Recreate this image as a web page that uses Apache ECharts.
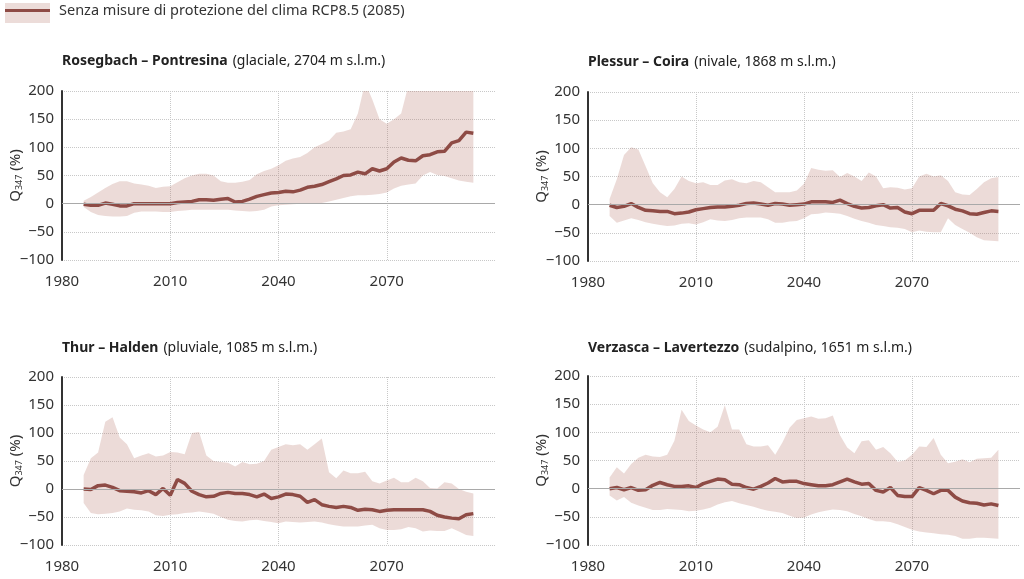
<!DOCTYPE html>
<html>
<head>
<meta charset="utf-8">
<script src="https://cdn.jsdelivr.net/npm/echarts@6/dist/echarts.min.js"></script>
<style>
  html, body { margin: 0; padding: 0; background: #fff; }
  #chart { width: 1024px; height: 579px; }
</style>
</head>
<body>
<div id="chart"></div>
<script>
// anni (griglia di 2 anni)
var years = [1986, 1988,
  1990, 1992, 1994, 1996, 1998, 2000, 2002, 2004, 2006, 2008,
  2010, 2012, 2014, 2016, 2018, 2020, 2022, 2024, 2026, 2028,
  2030, 2032, 2034, 2036, 2038, 2040, 2042, 2044, 2046, 2048,
  2050, 2052, 2054, 2056, 2058, 2060, 2062, 2064, 2066, 2068,
  2070, 2072, 2074, 2076, 2078, 2080, 2082, 2084, 2086, 2088,
  2090, 2092, 2094];

// Rosegbach – Pontresina
var rosegMid = [-1, -3,
  -3, 1, -1, -4, -4,   0, 0, 0, 0, 0,
  0, 2, 3, 4, 7,       7, 6, 8, 9, 3,
  4, 8, 13, 16, 19,    20, 22, 21, 24, 29,
  31, 34, 39, 44, 50,  51, 56, 53, 62, 58,
  62, 74, 81, 77, 76,  85, 87, 92, 93, 108,
  112, 127, 125];
var rosegHi = [5, 12,
  20, 28, 35, 40, 40,  36, 34, 32, 28, 30,
  31, 38, 45, 50, 53,  53, 50, 40, 37, 37,
  39, 42, 52, 58, 62,  68, 76, 80, 83, 90,
  100, 106, 112, 126, 128,  132, 160, 215, 185, 150,
  142, 150, 160, 210, 240,  250, 250, 250, 250, 250,
  250, 250, 250];
var rosegLo = [-6, -15,
  -20, -22, -23, -23, -22,  -16, -14, -14, -14, -15,
  -15, -13, -12, -11, -11,  -11, -11, -11, -11, -12,
  -13, -14, -13, -11, -5,   -3, -2, -1, 0, 0,
  0, 1, 4, 7, 10,           13, 15, 15, 16, 17,
  20, 27, 32, 34, 36,       50, 56, 51, 49, 45,
  41, 39, 37];

// Plessur – Coira
var plessMid = [-1, -5,
  -3, 2, -5, -10, -11,   -12, -12, -16, -15, -13,
  -9, -7, -5, -4, -4,    -3, -1, 2, 3, 1,
  -1, 2, 1, -1, 0,       1, 5, 5, 5, 4,
  8, 2, -3, -6, -5,      -2, 0, -6, -5, -13,
  -16, -10, -10, -10, 2, -2, -8, -11, -16, -17,
  -14, -11, -12];
var plessHi = [10, 45,
  88, 102, 98, 68, 38,   22, 13, 28, 50, 42,
  38, 40, 35, 35, 43,    45, 40, 38, 42, 40,
  31, 22, 22, 22, 25,    37, 65, 62, 60, 61,
  49, 56, 50, 42, 57,    50, 29, 31, 30, 27,
  29, 50, 55, 50, 52,    42, 22, 18, 17, 28,
  40, 47, 49];
var plessLo = [-20, -32,
  -28, -24, -27, -31, -34,  -36, -38, -37, -34, -33,
  -35, -31, -26, -28, -29,  -27, -24, -23, -23, -23,
  -26, -32, -32, -30, -29,  -24, -17, -16, -14, -15,
  -16, -20, -25, -29, -32,  -36, -38, -40, -41, -43,
  -49, -46, -48, -49, -49,  -24, -36, -43, -50, -58,
  -63, -64, -65];

// Thur – Halden
var thurMid = [0, -1,
  6, 7, 3, -3, -4,        -5, -7, -3, -10, 1,
  -11, 17, 10, -4, -10,   -14, -13, -8, -6, -8,
  -8, -10, -14, -9, -17,  -14, -9, -10, -13, -24,
  -19, -28, -31, -33, -31, -33, -38, -36, -37, -40,
  -38, -37, -37, -37, -37, -37, -40, -47, -50, -52,
  -53, -46, -44];
var thurHi = [25, 55,
  65, 120, 128, 92, 80,   55, 60, 64, 58, 60,
  66, 65, 62, 100, 102,   60, 50, 48, 47, 40,
  48, 44, 45, 50, 70,     75, 80, 78, 80, 70,
  80, 90, 30, 19, 33,     28, 28, 31, 14, 10,
  15, 20, 12, 12, 20,     14, 2, 1, 12, 10,
  0, -5, -8];
var thurLo = [-25, -43,
  -45, -44, -43, -40, -35,  -37, -38, -40, -47, -48,
  -46, -45, -43, -42, -40,  -42, -44, -50, -55, -57,
  -58, -56, -55, -57, -59,  -61, -58, -59, -60, -59,
  -58, -60, -63, -65, -67,  -67, -67, -65, -64, -70,
  -73, -73, -72, -68, -70,  -76, -74, -75, -75, -70,
  -76, -82, -84];

// Verzasca – Lavertezzo
var verzMid = [0, 2,
  -2, 2, -3, -2, 6,       11, 7, 4, 4, 5,
  2, 9, 13, 17, 16,       8, 7, 2, -1, 4,
  10, 18, 12, 13, 13,     9, 7, 5, 5, 7,
  12, 17, 12, 8, 9,       -3, -6, 2, -12, -14,
  -14, 2, -3, -9, -3,     -3, -15, -22, -25, -26,
  -29, -27, -30];
var verzHi = [20, 38,
  27, 44, 55, 60, 57,     56, 60, 85, 140, 120,
  112, 105, 100, 110, 148, 105, 105, 79, 75, 75,
  77, 60, 82, 108, 122,   125, 128, 124, 125, 130,
  95, 73, 63, 84, 86,     69, 74, 63, 48, 50,
  60, 75, 74, 90, 60,     45, 48, 52, 47, 53,
  54, 55, 69];
var verzLo = [-12, -21,
  -15, -25, -30, -34, -38,  -38, -36, -37, -38, -40,
  -39, -37, -34, -28, -24,  -22, -26, -29, -32, -36,
  -39, -41, -43, -48, -52,  -51, -46, -42, -39, -37,
  -38, -40, -45, -49, -54,  -58, -58, -59, -63, -68,
  -73, -76, -78, -79, -81,  -82, -84, -89, -89, -87,
  -87, -88, -89];

var titles = [
  ['Rosegbach – Pontresina', '(glaciale, 2704 m s.l.m.)'],
  ['Plessur – Coira', '(nivale, 1868 m s.l.m.)'],
  ['Thur – Halden', '(pluviale, 1085 m s.l.m.)'],
  ['Verzasca – Lavertezzo', '(sudalpino, 1651 m s.l.m.)']
];
var panels = [
  [rosegMid, rosegLo, rosegHi],
  [plessMid, plessLo, plessHi],
  [thurMid, thurLo, thurHi],
  [verzMid, verzLo, verzHi]
];

var lineName = 'Senza misure di protezione del clima RCP8.5 (2085)';
var bandName = 'Intervallo';
var lineColor = '#8e4b45';
var bandColor = 'rgba(180,110,100,0.25)';
var font = 'Noto Sans';

var myChart = echarts.init(document.getElementById('chart'));

var gridPos = [
  {left: 62, top: 91, width: 433, height: 169},
  {left: 588, top: 92, width: 432, height: 169},
  {left: 62, top: 377, width: 433, height: 168},
  {left: 588, top: 376, width: 432, height: 169}
];
var titlePos = [
  {left: 62, top: 52}, {left: 588, top: 53},
  {left: 62, top: 339}, {left: 588, top: 339}
];

var grids = [], xAxes = [], yAxes = [], series = [], titleList = [];

// banda min-max disegnata come poligono con le coordinate dell'asse
function bandRenderer(lo, hi) {
  return function (params, api) {
    if (params.dataIndex !== 0) return;
    var pts = [];
    for (var k = 0; k < years.length; k++) pts.push(api.coord([years[k], hi[k]]));
    for (var k = years.length - 1; k >= 0; k--) pts.push(api.coord([years[k], lo[k]]));
    var cs = params.coordSys;
    return {
      type: 'group',
      clipPath: {type: 'rect', shape: {x: cs.x, y: cs.y, width: cs.width, height: cs.height}},
      children: [{
        type: 'polygon',
        shape: {points: pts},
        style: {fill: bandColor}
      }]
    };
  };
}

panels.forEach(function (p, i) {
  var mid = p[0], lo = p[1], hi = p[2];
  grids.push(gridPos[i]);
  titleList.push({
    left: titlePos[i].left,
    top: titlePos[i].top,
    padding: 0,
    text: '{b|' + titles[i][0] + '} {n|' + titles[i][1] + '}',
    textStyle: {
      rich: {
        b: {fontFamily: font, fontSize: 14, fontWeight: 'bold', color: '#222'},
        n: {fontFamily: font, fontSize: 14, fontWeight: 'normal', color: '#222'}
      }
    }
  });
  xAxes.push({
    type: 'value', gridIndex: i, min: 1980, max: 2100, interval: 30,
    axisLine: {show: false}, axisTick: {show: false},
    axisLabel: {
      showMaxLabel: false, margin: 14, fontFamily: font, fontSize: 15, color: '#333',
      formatter: function (v) { return String(v); }
    },
    splitLine: {
      show: true,
      lineStyle: {type: 'dotted', width: 1,
        color: ['rgba(0,0,0,0)', '#c8c8c8', '#c8c8c8', '#c8c8c8', 'rgba(0,0,0,0)']}
    }
  });
  yAxes.push({
    type: 'value', gridIndex: i, min: -100, max: 200, interval: 50,
    name: '{q|Q}{s|347}{q| (%)}',
    nameLocation: 'middle', nameGap: 38, nameRotate: 90,
    nameMoveOverlap: false,
    nameTextStyle: {
      rich: {
        q: {fontFamily: font, fontSize: 15, color: '#333'},
        s: {fontFamily: font, fontSize: 9, color: '#333', padding: [8, 0, 0, 0]}
      }
    },
    axisLine: {show: true, lineStyle: {color: '#333', width: 2}},
    axisTick: {show: false},
    axisLabel: {
      margin: 8, fontFamily: font, fontSize: 15, color: '#333',
      formatter: function (v) { return String(v).replace('-', '\u2212'); }
    },
    splitLine: {show: true, lineStyle: {type: 'dotted', color: '#c8c8c8', width: 1}}
  });
  series.push({
    name: bandName, type: 'custom', xAxisIndex: i, yAxisIndex: i,
    silent: true, z: 2,
    itemStyle: {color: bandColor},
    renderItem: bandRenderer(lo, hi),
    encode: {x: 0, y: [1, 2]},
    data: years.map(function (y, k) { return [y, lo[k], hi[k]]; })
  });
  series.push({
    name: lineName, type: 'line', xAxisIndex: i, yAxisIndex: i,
    symbol: 'none', silent: true,
    itemStyle: {color: lineColor},
    lineStyle: {color: lineColor, width: 3.5},
    markLine: {
      silent: true, symbol: 'none', animation: false,
      label: {show: false},
      lineStyle: {color: '#a9a9a9', width: 1, type: 'solid'},
      data: [{yAxis: 0}]
    },
    z: 3,
    data: years.map(function (y, k) { return [y, mid[k]]; })
  });
});

var option = {
  animation: false,
  backgroundColor: '#fff',
  title: titleList,
  legend: [
    {
      left: 5, top: 3, padding: 0, itemWidth: 45, itemHeight: 20, selectedMode: false,
      data: [{name: bandName, icon: 'rect', itemStyle: {color: '#ecdcd9'}}],
      formatter: function () { return ''; }
    },
    {
      left: 5, top: 3, padding: 0, itemWidth: 45, itemHeight: 3, selectedMode: false,
      data: [{name: lineName, icon: 'rect', itemStyle: {color: lineColor}}],
      textStyle: {fontFamily: font, fontSize: 14.5, color: '#333', padding: [0, 0, 0, 4]}
    }
  ],
  grid: grids,
  xAxis: xAxes,
  yAxis: yAxes,
  series: series
};
myChart.setOption(option);
</script>
</body>
</html>
